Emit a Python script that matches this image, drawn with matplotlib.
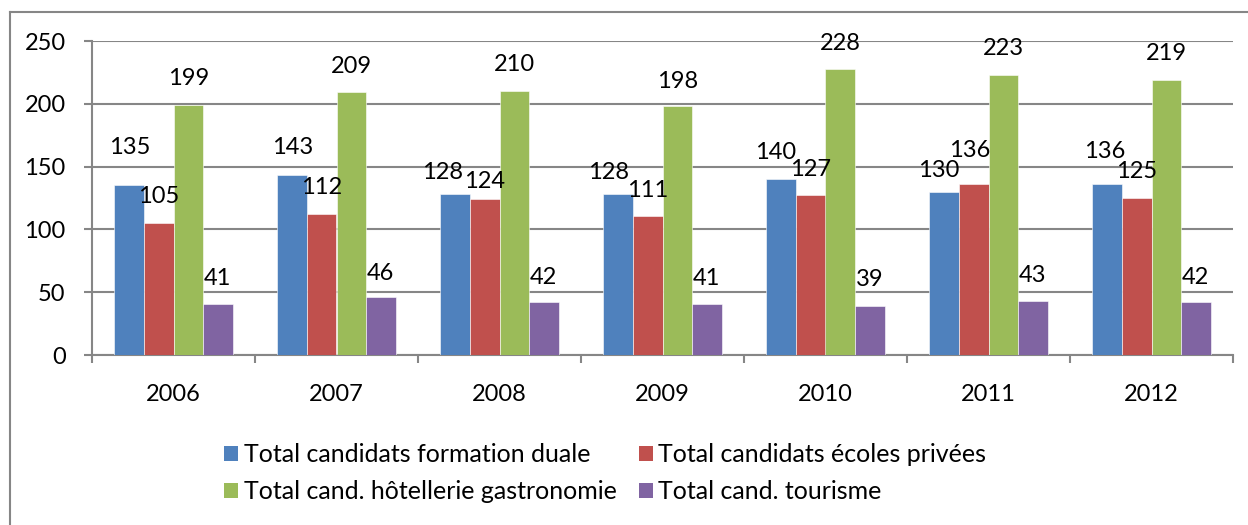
import matplotlib
matplotlib.use('Agg')
import matplotlib.pyplot as plt
import numpy as np
from matplotlib.patches import Patch
from matplotlib.lines import Line2D

plt.rcParams['font.family'] = ['Lato', 'DejaVu Sans']

years = ['2006', '2007', '2008', '2009', '2010', '2011', '2012']
duale = [135, 143, 128, 128, 140, 130, 136]
privees = [105, 112, 124, 111, 127, 136, 125]
hotellerie = [199, 209, 210, 198, 228, 223, 219]
tourisme = [41, 46, 42, 41, 39, 43, 42]
series_names = ['Total candidats formation duale', 'Total candidats écoles privées',
                'Total cand. hôtellerie gastronomie', 'Total cand. tourisme']
colors = ['#4F81BD', '#C0504D', '#9BBB59', '#8064A2']

# where excel put the data labels (label centre height, in data units)
label_y = [[165, 165, 145, 145, 161, 147, 162],
           [126, 133, 138, 131, 148, 163, 146],
           [220, 230, 231, 218, 248, 244, 240],
           [61, 65, 62, 61, 60, 63, 62]]
# small sideways nudges (pixels)
label_dx = [[0, 0, -13, -10, -6, -6, -3],
            [0, 0, 0, 0, 0, -4, 0],
            [0, 0, 0, 0, 0, 0, 0],
            [0, 0, 0, 0, 0, 0, 0]]

data = [duale, privees, hotellerie, tourisme]
grey = '#868686'

fig = plt.figure(figsize=(12.48, 5.25), dpi=100)
W, H = 1248, 525
ax = fig.add_axes([92/W, 1-355/H, (1233-92)/W, (355-41)/H])

x = np.arange(len(years))
w = 0.181
for i, vals in enumerate(data):
    ax.bar(x + (i-1.5)*w, vals, width=w, color=colors[i], zorder=3,
           edgecolor='white', linewidth=0.4)
    for j, v in enumerate(vals):
        ax.annotate(str(v), (x[j] + (i-1.5)*w, label_y[i][j]),
                    xytext=(label_dx[i][j]*0.72, 0), textcoords='offset points',
                    ha='center', va='center', fontsize=17, zorder=5)

ax.set_xlim(-0.5, len(years)-0.5)
ax.set_ylim(0, 250)
ax.set_yticks(np.arange(0, 251, 50))
ax.yaxis.grid(True, color=grey, linewidth=1.5, zorder=0)
ax.set_axisbelow(True)

ax.set_xticks(np.arange(-0.5, len(years), 1.0))
ax.set_xticklabels([])
ax.set_xticks(x, minor=True)
ax.set_xticklabels(years, minor=True)
ax.tick_params(axis='x', which='major', length=6, width=1.5, color=grey, direction='out')
ax.tick_params(axis='x', which='minor', length=0, pad=21, labelsize=17)
ax.tick_params(axis='y', length=6, width=1.5, color=grey, direction='out', pad=13, labelsize=17)

for s in ['top', 'right']:
    ax.spines[s].set_visible(False)
for s in ['left', 'bottom']:
    ax.spines[s].set_color(grey)
    ax.spines[s].set_linewidth(1.5)

# outer chart frame (runs off the right and bottom)
fig.add_artist(Line2D([10/W, 10/W], [-0.1, 1-12/H], color=grey, linewidth=1.5))
fig.add_artist(Line2D([10/W, 1.1], [1-12/H, 1-12/H], color=grey, linewidth=1.5))

order = [0, 2, 1, 3]
handles = [Patch(facecolor=colors[k]) for k in order]
labels = [series_names[k] for k in order]
fig.legend(handles, labels, ncol=2, loc='upper left', bbox_to_anchor=(224/W, 1-443/H),
           frameon=False, handlelength=0.56, handleheight=0.56, handletextpad=0.22,
           columnspacing=0.9, labelspacing=0.56, borderpad=0, borderaxespad=0,
           prop={'size': 18})

fig.savefig('out.png', dpi=100)
